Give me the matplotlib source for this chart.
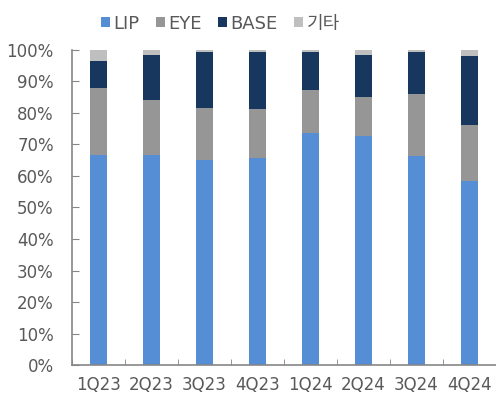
import matplotlib.pyplot as plt
import numpy as np

plt.rcParams['font.family'] = ['DejaVu Sans', 'Noto Sans CJK KR']

quarters = ['1Q23', '2Q23', '3Q23', '4Q23', '1Q24', '2Q24', '3Q24', '4Q24']
lip = [66.8, 66.7, 65.2, 65.8, 73.7, 72.8, 66.4, 58.5]
eye = [21.1, 17.5, 16.4, 15.5, 13.6, 12.4, 19.6, 17.6]
base = [8.6, 14.2, 17.7, 17.9, 11.9, 13.2, 13.2, 22.1]
etc = [3.5, 1.6, 0.7, 0.8, 0.8, 1.6, 0.8, 1.8]

names = ['LIP', 'EYE', 'BASE', '기타']
colors = ['#558ED5', '#969696', '#17375E', '#BFBFBF']
series = [lip, eye, base, etc]

fig = plt.figure(figsize=(4.96, 3.99), dpi=100)
ax = fig.add_axes([0.145, 0.085, 0.855, 0.79])

x = np.arange(len(quarters))
bottom = np.zeros(len(quarters))
for vals, c, n in zip(series, colors, names):
    ax.bar(x, vals, 0.31, bottom=bottom, color=c, label=n)
    bottom += np.array(vals)

ax.set_xlim(-0.5, 7.5)
ax.set_ylim(0, 100)
ax.set_yticks(range(0, 101, 10))
ax.set_yticklabels([f'{v}%' for v in range(0, 101, 10)])
ax.set_xticks(x)
ax.set_xticklabels(quarters)
ax.set_xticks(np.arange(-0.5, 8, 1), minor=True)

for s in ['top', 'right']:
    ax.spines[s].set_visible(False)
for s in ['left', 'bottom']:
    ax.spines[s].set_color('#868686')
    ax.spines[s].set_linewidth(1.2)

ax.tick_params(axis='y', direction='in', length=5, color='#868686',
               labelsize=12, labelcolor='#595959', pad=13)
ax.tick_params(axis='x', which='major', length=0, labelsize=12,
               labelcolor='#595959', pad=8)
ax.tick_params(axis='x', which='minor', direction='in', length=4, color='#868686')

leg = ax.legend(loc='upper center', bbox_to_anchor=(0.35, 1.135), ncol=4,
                frameon=False, fontsize=13, handlelength=0.5, handleheight=0.5,
                handletextpad=0.2, columnspacing=0.9, borderaxespad=0)
for t in leg.get_texts():
    t.set_color('#595959')

fig.savefig('out.png', dpi=100)
